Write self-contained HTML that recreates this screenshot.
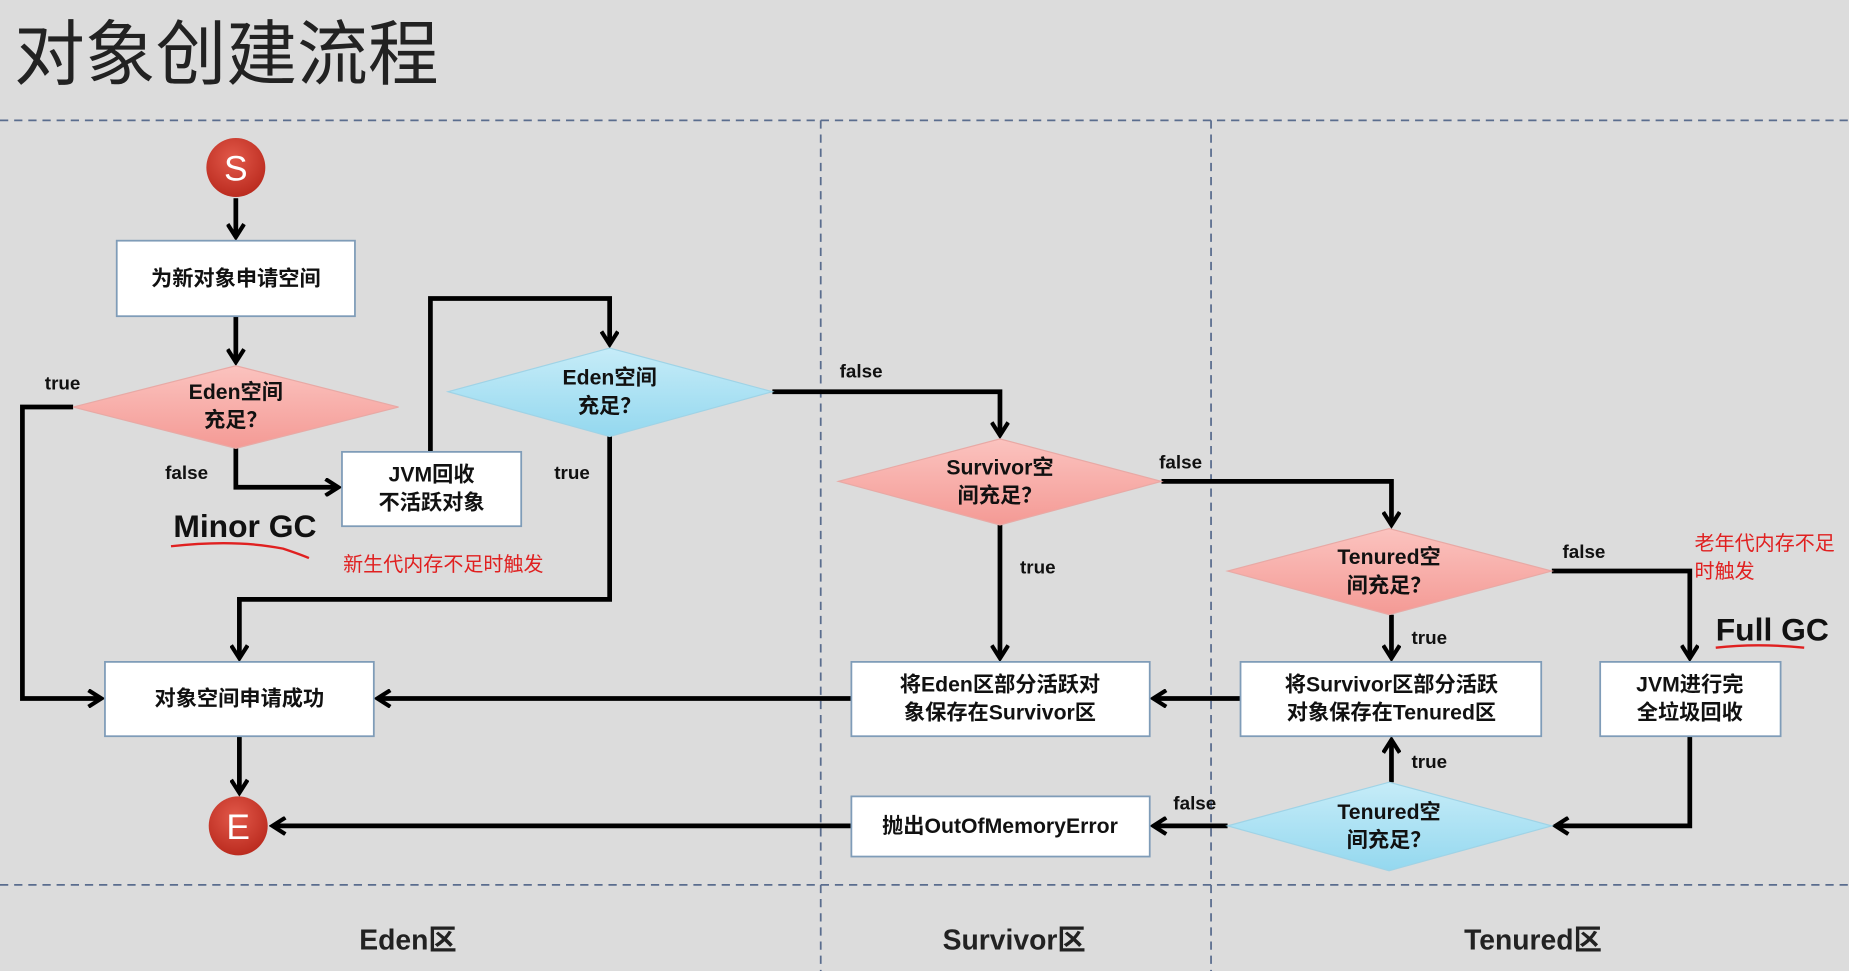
<!DOCTYPE html>
<html><head><meta charset="utf-8"><style>
html,body{margin:0;padding:0;background:#dcdcdc;overflow:hidden}
svg{display:block}
text{font-family:"Liberation Sans","Noto Sans CJK SC",sans-serif}
.b{font-weight:bold;font-size:18px;fill:#111}
.l{font-weight:bold;font-size:16px;fill:#111}
</style></head><body>
<svg width="1849" height="971" viewBox="0 0 1568 823" preserveAspectRatio="none" xmlns="http://www.w3.org/2000/svg">
<defs>
<marker id="a" markerWidth="16" markerHeight="16" refX="12" refY="8" orient="auto" markerUnits="userSpaceOnUse" viewBox="0 0 16 16">
<polyline points="2,1 13,8 2,15" fill="none" stroke="#000" stroke-width="3.5"/>
</marker>
<linearGradient id="pk" x1="0" y1="0" x2="0" y2="1"><stop offset="0" stop-color="#fbc3bf"/><stop offset="1" stop-color="#f49a95"/></linearGradient>
<linearGradient id="bl" x1="0" y1="0" x2="0" y2="1"><stop offset="0" stop-color="#c6ecf8"/><stop offset="1" stop-color="#94d8ef"/></linearGradient>
<radialGradient id="rd" cx="0.45" cy="0.35" r="0.7"><stop offset="0" stop-color="#e2594a"/><stop offset="1" stop-color="#b8281c"/></radialGradient>
</defs>
<rect width="1568" height="823" fill="#dcdcdc"/>
<text x="12" y="67" font-size="60" fill="#222" style="font-family:'Noto Sans CJK SC',sans-serif">对象创建流程</text>
<g stroke="#5a6d8e" stroke-width="1.5" stroke-dasharray="7,5" fill="none">
<line x1="0" y1="102" x2="1568" y2="102"/><line x1="0" y1="750" x2="1568" y2="750"/>
<line x1="696" y1="102" x2="696" y2="823"/><line x1="1027" y1="102" x2="1027" y2="823"/>
</g>
<g stroke="#000" stroke-width="4" fill="none" marker-end="url(#a)">
<path d="M200 168V200"/><path d="M200 268V306"/>
<path d="M62 345H19V592H85"/>
<path d="M200 380V413H286"/>
<path d="M365 383V253H517V291"/>
<path d="M517 370V508H203V557"/>
<path d="M655 332H848V368"/>
<path d="M985 408H1180V444"/>
<path d="M848 445V557"/>
<path d="M1180 521V557"/>
<path d="M1316 484H1433V557"/>
<path d="M722 592H321"/>
<path d="M1052 592H979"/>
<path d="M1433 624V700H1320"/>
<path d="M1180 663V628"/>
<path d="M1041 700H979"/>
<path d="M722 700H232"/>
<path d="M203 624V671"/>
</g>
<g fill="#fff" stroke="#7f9cb8" stroke-width="1.5">
<rect x="99" y="204" width="202" height="64"/>
<rect x="290" y="383" width="152" height="63"/>
<rect x="89" y="561" width="228" height="63"/>
<rect x="722" y="561" width="253" height="63"/>
<rect x="1052" y="561" width="255" height="63"/>
<rect x="1357" y="561" width="153" height="63"/>
<rect x="722" y="675" width="253" height="51"/>
</g>
<g stroke="#e8a9a5" stroke-width="1">
<polygon points="62,345 200,310 338,345 200,380" fill="url(#pk)"/>
<polygon points="711,408 848,372 985,408 848,445" fill="url(#pk)"/>
<polygon points="1041,484 1178,448 1316,484 1178,521" fill="url(#pk)"/>
</g>
<g stroke="#9fd3e6" stroke-width="1">
<polygon points="380,332 517,295 655,332 517,370" fill="url(#bl)"/>
<polygon points="1041,700 1178,663 1316,700 1178,738" fill="url(#bl)"/>
</g>
<circle cx="200" cy="142" r="25" fill="url(#rd)"/>
<text x="200" y="153" font-size="30" fill="#fff" text-anchor="middle">S</text>
<circle cx="202" cy="700" r="25" fill="url(#rd)"/>
<text x="202" y="711" font-size="30" fill="#fff" text-anchor="middle">E</text>
<g text-anchor="middle" class="b">
<text x="200" y="242" class="b">为新对象申请空间</text>
<text x="200" y="338" class="b">Eden空间</text><text x="200" y="362" class="b">充足？</text>
<text x="517" y="326" class="b">Eden空间</text><text x="517" y="350" class="b">充足？</text>
<text x="366" y="408" class="b">JVM回收</text><text x="366" y="432" class="b">不活跃对象</text>
<text x="203" y="598" class="b">对象空间申请成功</text>
<text x="848" y="402" class="b">Survivor空</text><text x="848" y="426" class="b">间充足？</text>
<text x="848" y="586" class="b">将Eden区部分活跃对</text><text x="848" y="610" class="b">象保存在Survivor区</text>
<text x="1178" y="478" class="b">Tenured空</text><text x="1178" y="502" class="b">间充足？</text>
<text x="1180" y="586" class="b">将Survivor区部分活跃</text><text x="1180" y="610" class="b">对象保存在Tenured区</text>
<text x="1433" y="586" class="b">JVM进行完</text><text x="1433" y="610" class="b">全垃圾回收</text>
<text x="1178" y="694" class="b">Tenured空</text><text x="1178" y="718" class="b">间充足？</text>
<text x="848" y="706" class="b">抛出OutOfMemoryError</text>
</g>
<text x="38" y="330" class="l">true</text>
<text x="140" y="406" class="l">false</text>
<text x="470" y="406" class="l">true</text>
<text x="712" y="320" class="l">false</text>
<text x="983" y="397" class="l">false</text>
<text x="865" y="486" class="l">true</text>
<text x="1197" y="546" class="l">true</text>
<text x="1325" y="473" class="l">false</text>
<text x="1197" y="651" class="l">true</text>
<text x="995" y="686" class="l">false</text>
<text x="147" y="455" font-size="27" font-weight="bold" fill="#111">Minor GC</text>
<path d="M145 463 Q200 457 240 465 Q255 470 262 473" stroke="#e02020" stroke-width="2" fill="none"/>
<text x="291" y="484" font-size="17" fill="#e02020">新生代内存不足时触发</text>
<text x="1455" y="543" font-size="27" font-weight="bold" fill="#111">Full GC</text>
<path d="M1455 549 Q1490 545 1530 549" stroke="#e02020" stroke-width="2" fill="none"/>
<text x="1437" y="466" font-size="17" fill="#e02020">老年代内存不足</text>
<text x="1437" y="490" font-size="17" fill="#e02020">时触发</text>
<text x="346" y="805" font-size="24" font-weight="bold" fill="#222" text-anchor="middle">Eden区</text>
<text x="860" y="805" font-size="24" font-weight="bold" fill="#222" text-anchor="middle">Survivor区</text>
<text x="1300" y="805" font-size="24" font-weight="bold" fill="#222" text-anchor="middle">Tenured区</text>
</svg>
</body></html>
